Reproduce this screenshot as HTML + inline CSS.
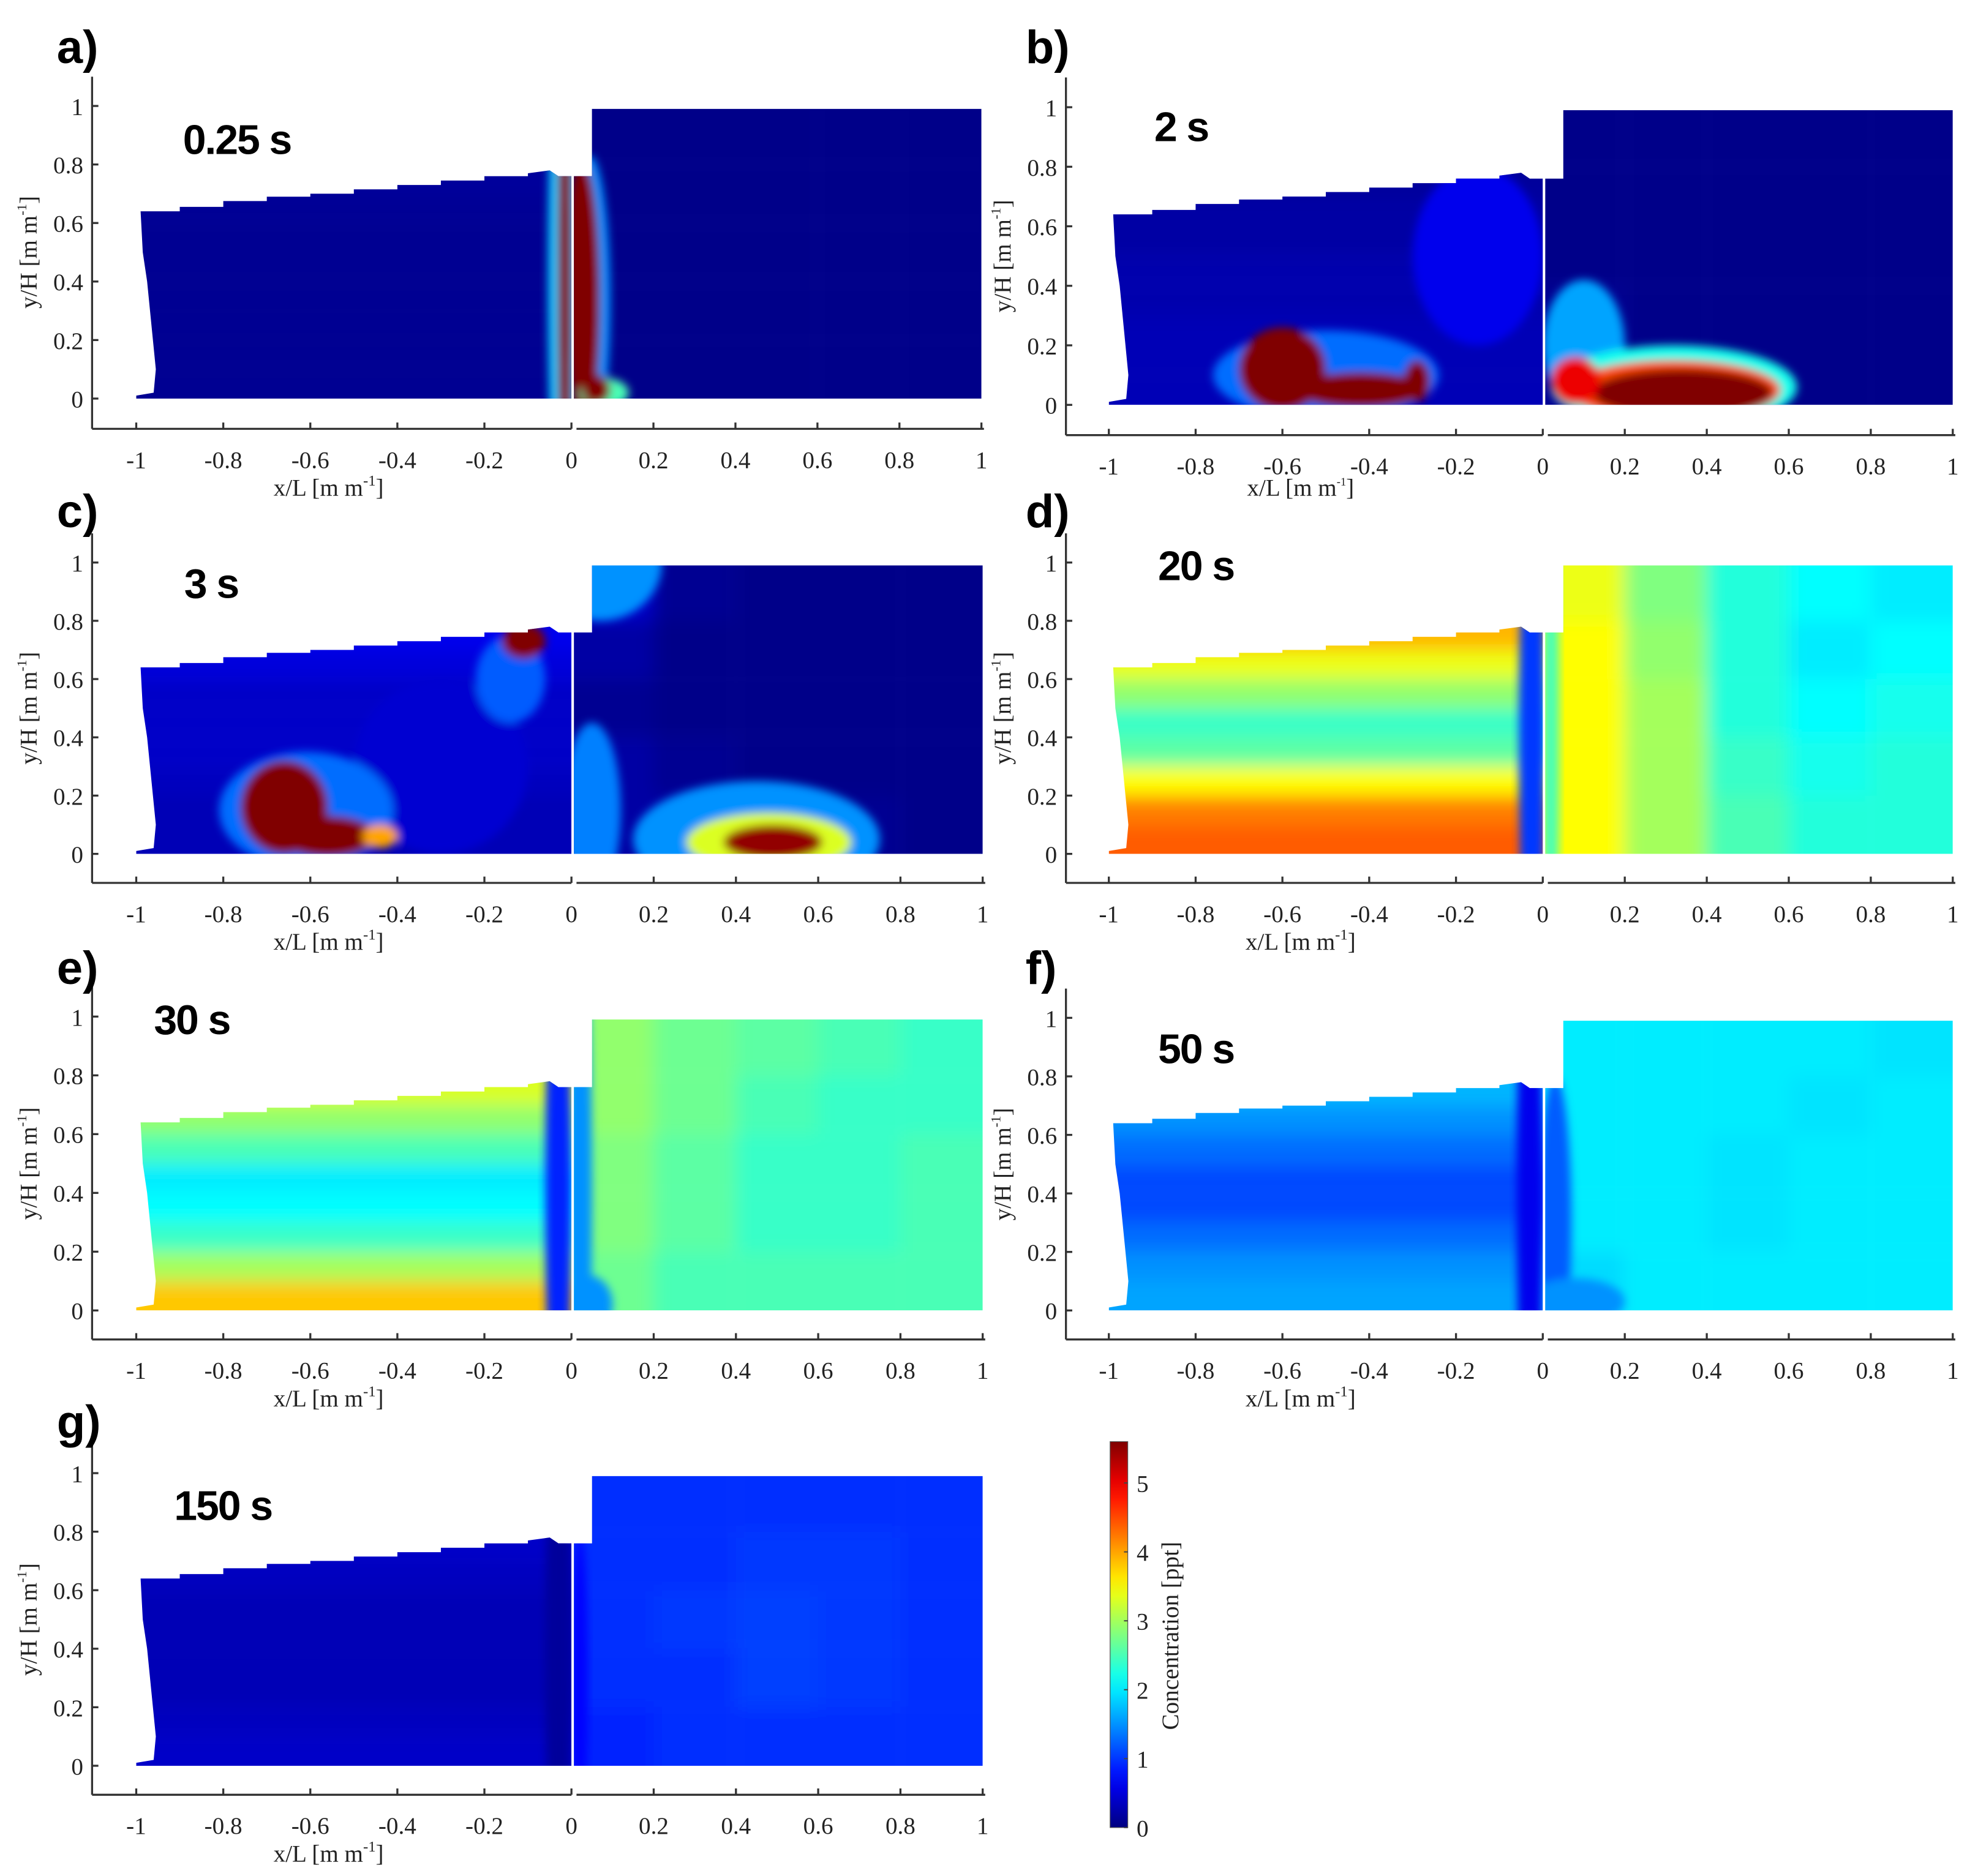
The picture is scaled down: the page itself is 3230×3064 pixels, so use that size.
<!DOCTYPE html>
<html><head><meta charset="utf-8">
<style>
html,body{margin:0;padding:0;background:#fff;}
svg{display:block;}
.tick{font-family:"Liberation Serif",serif;font-size:19px;fill:#222;}
.ttl{font-family:"Liberation Serif",serif;font-size:19px;fill:#222;}
.lbl{font-family:"Liberation Sans",sans-serif;font-weight:bold;font-size:37px;fill:#000;}
.tm{font-family:"Liberation Sans",sans-serif;font-weight:bold;font-size:33px;fill:#000;letter-spacing:-1px;}
</style></head>
<body>
<svg id="fig" width="3230" height="3064" viewBox="0 0 1568 1487.4" xmlns="http://www.w3.org/2000/svg">
<defs>
<filter id="blur" x="-10%" y="-10%" width="120%" height="120%"><feGaussianBlur stdDeviation="7"/></filter>
<filter id="blurS" x="-30%" y="-30%" width="160%" height="160%"><feGaussianBlur stdDeviation="3.5"/></filter>
<linearGradient id="cbgrad" x1="0" y1="1" x2="0" y2="0"></linearGradient>
</defs>
</svg>
<script>
// ---- data ----
const panelIds = ["a","b","c","d","e","f","g"];
const timeLabels = ["0.25 s","2 s","3 s","20 s","30 s","50 s","150 s"];
const xTicksLeft = [-1,-0.8,-0.6,-0.4,-0.2,0];
const xTicksRight = [0.2,0.4,0.6,0.8,1];
const yTicks = [0,0.2,0.4,0.6,0.8,1];
const cbTicks = [0,1,2,3,4,5];
const cbMax = 5.6;
// left domain: horizontal band values for rows y=0-0.1 ... 0.7-0.8
const leftA = [0.1,0.1,0.1,0.1,0.1,0.1,0.12,0.15];
const leftB = [0.3,0.3,0.3,0.25,0.25,0.2,0.2,0.15];
const leftC = [0.3,0.3,0.35,0.4,0.4,0.4,0.5,0.6];
const leftD = [4.4,4.2,3.5,2.6,2.4,2.9,3.4,3.9];
const leftE = [3.8,3.0,2.4,2.1,2.0,2.5,2.9,3.3];
const leftF = [1.6,1.5,1.3,1.1,1.1,1.3,1.5,1.7];
const leftG = [0.4,0.35,0.3,0.3,0.3,0.3,0.35,0.4];
// right domain grids: rows bottom->top (0.2 each), cols x=0..1 (0.2 each)
const rightA = [[0.05,0.05,0.05,0.05,0.05],[0.05,0.05,0.05,0.05,0.05],[0.05,0.05,0.05,0.05,0.05],[0.05,0.05,0.05,0.05,0.05],[0.05,0.05,0.05,0.05,0.05]];
const rightB = [[0.1,0.05,0.05,0.05,0.05],[0.1,0.05,0.05,0.05,0.05],[0.05,0.05,0.05,0.05,0.05],[0.05,0.05,0.05,0.05,0.05],[0.05,0.05,0.05,0.05,0.05]];
const rightC = [[0.2,0.2,0.2,0.1,0.05],[0.2,0.1,0.05,0.05,0.05],[0.1,0.05,0.05,0.05,0.05],[0.2,0.05,0.05,0.05,0.05],[0.4,0.1,0.05,0.05,0.05]];
const rightD = [[3.5,3.0,2.5,2.3,2.3],[3.5,3.0,2.4,2.2,2.3],[3.5,3.0,2.3,2.1,2.2],[3.5,2.9,2.3,2.0,2.1],[3.4,2.8,2.3,2.1,2.0]];
const rightE = [[2.7,2.5,2.5,2.5,2.5],[2.8,2.6,2.4,2.4,2.5],[2.8,2.6,2.4,2.4,2.5],[2.9,2.7,2.5,2.4,2.4],[2.9,2.7,2.6,2.5,2.4]];
const rightF = [[1.9,2.0,2.0,2.0,2.0],[2.0,2.0,1.95,2.0,2.0],[2.0,2.0,1.95,2.0,2.0],[2.0,2.0,2.0,1.95,2.0],[2.0,2.0,2.0,2.0,1.95]];
const rightG = [[0.9,0.95,0.95,0.95,0.95],[0.95,0.95,1.05,1.0,0.95],[0.95,1.0,1.05,1.0,0.95],[0.95,0.95,1.0,1.0,0.95],[0.95,0.95,0.95,0.95,0.95]];
// blobs: [cx, cy, rx, ry, value] in data units, drawn in order
const blobsA = [[-0.02,0.4,0.035,1.0,1.8],[-0.015,0.4,0.017,1.0,5.6],[0.045,0.33,0.05,0.5,1.5],[0.03,0.33,0.04,0.47,5.6],[0.02,0.5,0.03,0.3,5.6],[0.08,0.02,0.06,0.05,2.5],[0.06,0.03,0.035,0.05,5.6]];
const blobsB = [[-0.15,0.5,0.15,0.3,0.6],[-0.5,0.1,0.26,0.15,1.3],[-0.6,0.12,0.1,0.14,5.6],[-0.42,0.05,0.15,0.06,5.6],[-0.29,0.08,0.03,0.07,5.6],
  [0.1,0.2,0.1,0.22,1.6],[0.32,0.06,0.3,0.14,2.2],[0.32,0.05,0.26,0.1,4.5],[0.34,0.04,0.22,0.08,5.6],[0.08,0.08,0.06,0.08,5]];
const blobsC = [[-0.3,0.3,0.2,0.3,0.45],[-0.61,0.15,0.2,0.2,1.3],[-0.66,0.16,0.1,0.16,5.6],[-0.56,0.06,0.11,0.07,5.6],[-0.44,0.06,0.04,0.04,4],[-0.14,0.6,0.08,0.15,1.2],[-0.11,0.73,0.05,0.06,5.6],
  [0.07,1.0,0.15,0.2,1.5],[0.05,0.15,0.07,0.3,1.4],[0.45,0.05,0.3,0.2,1.5],[0.48,0.04,0.2,0.1,3.3],[0.49,0.04,0.12,0.06,5.5]];
const blobsD = [[-0.025,0.4,0.03,1.0,1.0],[0.02,0.4,0.02,1.0,2.5]];
const blobsE = [[-0.03,0.4,0.03,1.0,0.9],[0.02,0.4,0.03,1.0,1.5],[0.04,0.02,0.06,0.1,1.5]];
const blobsF = [[-0.03,0.4,0.03,1.0,0.6],[0.03,0.3,0.04,0.5,1.2],[0.08,0.03,0.12,0.08,1.5]];
const blobsG = [[-0.03,0.4,0.03,1.0,0.15],[0.02,0.3,0.02,0.5,0.7]];
const leftData = [leftA,leftB,leftC,leftD,leftE,leftF,leftG];
const rightData = [rightA,rightB,rightC,rightD,rightE,rightF,rightG];
const blobData = [blobsA,blobsB,blobsC,blobsD,blobsE,blobsF,blobsG];

// ---- layout ----
const layouts = [
 {yax:73, xm1:108, x0:453, x1:778, y0:316, y1:84, axY:340, lx:45, ly:50, tx:145, ty:122},
 {yax:845, xm1:879, x0:1223, x1:1548, y0:321, y1:85, axY:345, lx:813, ly:50, tx:915, ty:112},
 {yax:73, xm1:108, x0:453, x1:779, y0:677, y1:446, axY:700, lx:45, ly:418, tx:146, ty:474},
 {yax:845, xm1:879, x0:1223, x1:1548, y0:677, y1:446, axY:700, lx:813, ly:418, tx:918, ty:460},
 {yax:73, xm1:108, x0:453, x1:779, y0:1039, y1:806, axY:1062, lx:45, ly:780, tx:122, ty:820},
 {yax:845, xm1:879, x0:1223, x1:1548, y0:1039, y1:807, axY:1062, lx:813, ly:780, tx:918, ty:843},
 {yax:73, xm1:108, x0:453, x1:779, y0:1400, y1:1168, axY:1423, lx:45, ly:1140, tx:138, ty:1205}
];
const NS = "http://www.w3.org/2000/svg";
const svg = document.getElementById("fig");
function el(tag, attrs, parent){const e=document.createElementNS(NS,tag);for(const k in attrs)e.setAttribute(k,attrs[k]);(parent||svg).appendChild(e);return e;}
function jet(v){let t=Math.max(0,Math.min(1,v/cbMax));const c=x=>Math.round(255*Math.max(0,Math.min(1,x)));
 return `rgb(${c(1.5-Math.abs(4*t-3))},${c(1.5-Math.abs(4*t-2))},${c(1.5-Math.abs(4*t-1))})`;}

const leftShape = [[-0.99,0.64],[-0.9,0.64],[-0.9,0.655],[-0.8,0.655],[-0.8,0.675],[-0.7,0.675],[-0.7,0.69],[-0.6,0.69],[-0.6,0.70],[-0.5,0.70],[-0.5,0.715],[-0.4,0.715],[-0.4,0.73],[-0.3,0.73],[-0.3,0.745],[-0.2,0.745],[-0.2,0.76],[-0.1,0.76],[-0.1,0.77],[-0.05,0.78],[-0.03,0.76],[0,0.76],[0,0],[-0.96,0],[-1,0.0],[-1,0.01],[-0.96,0.02],[-0.955,0.1],[-0.965,0.25],[-0.975,0.4],[-0.985,0.5],[-0.99,0.64]];
const rightShape = [[0.006,0],[1,0],[1,0.99],[0.05,0.99],[0.05,0.76],[0.006,0.76]];

panelIds.forEach((id,pi)=>{
 const L = layouts[pi];
 const sxL = v => L.x0 + (v)*(L.x0-L.xm1);
 const sxR = v => L.x0 + v*(L.x1-L.x0);
 const sy = v => L.y0 - v*(L.y0-L.y1);
 const sx = v => v<0? sxL(v): sxR(v);
 const g = el("g",{});
 
 
 const cl = el("clipPath",{id:"clipL"+id},g);
 el("polygon",{points:leftShape.map(p=>sxL(p[0])+","+sy(p[1])).join(" ")},cl);
 const cr = el("clipPath",{id:"clipR"+id},g);
 el("polygon",{points:rightShape.map(p=>sxR(p[0])+","+sy(p[1])).join(" ")},cr);
 const gl = el("g",{"clip-path":`url(#clipL${id})`},g);
 
 
 const fl = el("g",{filter:"url(#blur)"},gl);
 const lrows = leftData[pi];
 lrows.forEach((v,i)=>{
   const ya = i===0? -0.1 : i*0.1, yb = i===lrows.length-1? 0.95 : (i+1)*0.1;
   const r = el("rect",{x:sxL(-1.1),y:sy(yb),width:sxL(0.05)-sxL(-1.1),height:sy(ya)-sy(yb),fill:jet(v)},fl);
   
   
 });
 const bl = el("g",{filter:"url(#blurS)"},gl);
 const gr = el("g",{"clip-path":`url(#clipR${id})`},g);
 
 
 const fr = el("g",{filter:"url(#blur)"},gr);
 const grid = rightData[pi];
 grid.forEach((row,ri)=>row.forEach((v,ci)=>{
   const xa = ci===0? -0.1 : ci*0.2, xb = ci===row.length-1? 1.1 : (ci+1)*0.2;
   const ya = ri===0? -0.1 : ri*0.2, yb = ri===grid.length-1? 1.1 : (ri+1)*0.2;
   const r = el("rect",{x:sxR(xa),y:sy(yb),width:sxR(xb)-sxR(xa),height:sy(ya)-sy(yb),fill:jet(v)},fr);
   
   
 }));
 const br = el("g",{filter:"url(#blurS)"},gr);
 blobData[pi].forEach(b=>{
   const parent = b[0]<0? bl: br;
   const e = el("ellipse",{cx:sx(b[0]),cy:sy(b[1]),rx:Math.abs(sx(b[0]+b[2])-sx(b[0])),ry:sy(0)-sy(b[3]),fill:jet(b[4])},parent);
   
   
 });
 const ax = el("g",{stroke:"#333","stroke-width":1.6,fill:"none"},g);
 
 
 el("line",{x1:L.yax,y1:sy(1.1),x2:L.yax,y2:L.axY},ax);
 el("line",{x1:L.yax,y1:L.axY,x2:L.x0,y2:L.axY},ax);
 el("line",{x1:L.x0+4,y1:L.axY,x2:L.x1+2,y2:L.axY},ax);
 yTicks.forEach(t=>{
   el("line",{x1:L.yax,y1:sy(t),x2:L.yax+5,y2:sy(t)},ax);
   const tx = el("text",{x:L.yax-7,y:sy(t)+7,"text-anchor":"end",class:"tick"},g);
   tx.textContent = String(t);
   
   
 });
 xTicksLeft.forEach(t=>{
   el("line",{x1:sxL(t),y1:L.axY,x2:sxL(t),y2:L.axY-5},ax);
   const tx = el("text",{x:sxL(t),y:L.axY+31,"text-anchor":"middle",class:"tick"},g);
   tx.textContent = String(t);
   
   
 });
 xTicksRight.forEach(t=>{
   el("line",{x1:sxR(t),y1:L.axY,x2:sxR(t),y2:L.axY-5},ax);
   const tx = el("text",{x:sxR(t),y:L.axY+31,"text-anchor":"middle",class:"tick"},g);
   tx.textContent = String(t);
   
   
 });
 const small = id==="b";
 const xt = el("text",{x:(L.xm1+L.x0)/2-20,y:L.axY+(small?48:53),"text-anchor":"middle",class:"ttl","font-size":small?14:19},g);
 xt.innerHTML = 'x/L [m m<tspan dy="-8" font-size="'+(small?9:12)+'">-1</tspan><tspan dy="8">]</tspan>';
 
 
 const ycx = L.yax-44, ycy = sy(0.5);
 const yt = el("text",{x:ycx,y:ycy,"text-anchor":"middle",class:"ttl","font-size":small?15:18,transform:`rotate(-90 ${ycx} ${ycy})`},g);
 yt.innerHTML = 'y/H [m m<tspan dy="-8" font-size="11">-1</tspan><tspan dy="8">]</tspan>';
 
 
 const lb = el("text",{x:L.lx,y:L.ly,class:"lbl"},g);
 lb.textContent = id+")";
 
 
 const tl = el("text",{x:L.tx,y:L.ty,class:"tm"},g);
 tl.textContent = timeLabels[pi];
 
 
});

const grad = document.getElementById("cbgrad");
for(let i=0;i<=20;i++){el("stop",{offset:(i/20),"stop-color":jet(cbMax*i/20)},grad);}
const cb = el("g",{});


const cbTop=1143, cbBot=1449, cbX=880, cbW=14;
const cy = v => cbBot - v/cbMax*(cbBot-cbTop);
el("rect",{x:cbX,y:cbTop,width:cbW,height:cbBot-cbTop,fill:"url(#cbgrad)",stroke:"#555","stroke-width":0.6},cb);
cbTicks.forEach(t=>{
  el("line",{x1:cbX+cbW-3,y1:cy(t),x2:cbX+cbW,y2:cy(t),stroke:"#444","stroke-width":1},cb);
  const tx = el("text",{x:cbX+21,y:cy(t)+7,class:"tick"},cb);
  tx.textContent = String(t);
  
  
});
const ct = el("text",{x:934,y:1297,"text-anchor":"middle",class:"ttl","font-size":20,transform:"rotate(-90 934 1297)"},cb);
ct.textContent = "Concentration [ppt]";


</script>
</body></html>
